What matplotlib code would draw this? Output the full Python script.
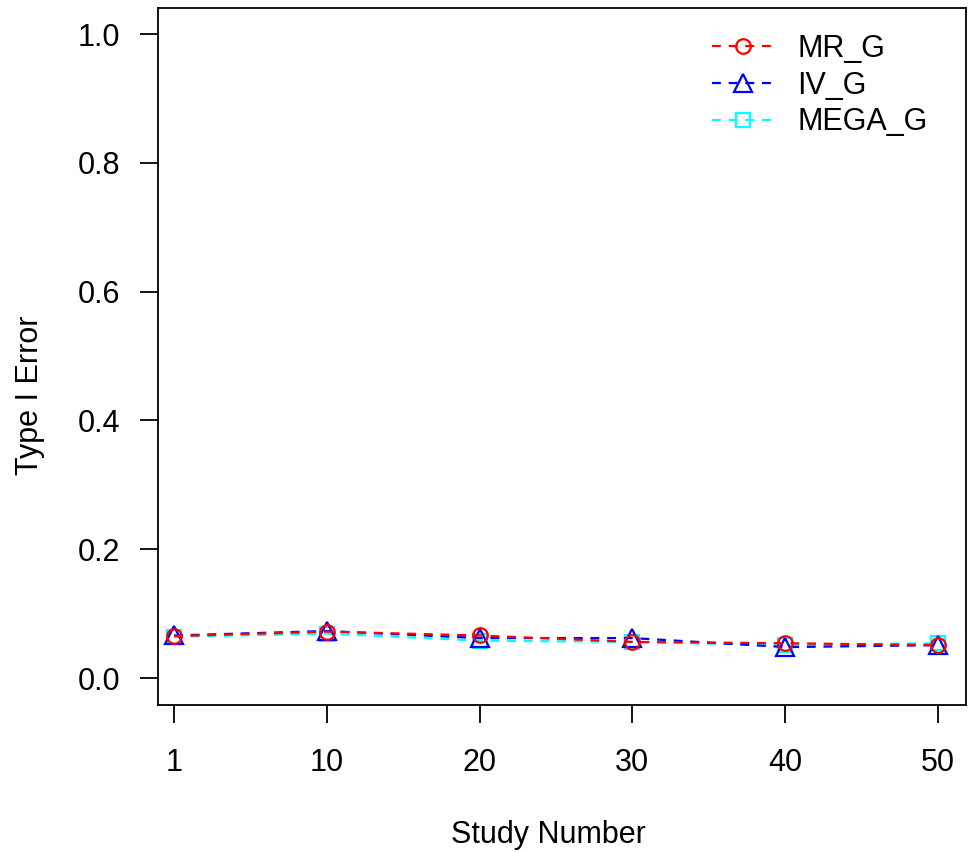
import numpy as np
import matplotlib.pyplot as plt

plt.rcParams['font.family'] = ['Liberation Sans', 'DejaVu Sans']

# --- DATA ---
study_labels = ['1', '10', '20', '30', '40', '50']
mr_g = [0.065, 0.072, 0.066, 0.056, 0.054, 0.051]
iv_g = [0.066, 0.073, 0.062, 0.062, 0.048, 0.051]
mega_g = [0.064, 0.069, 0.058, 0.056, 0.051, 0.054]

x = np.arange(1, len(study_labels) + 1)

# --- FIGURE ---
fig = plt.figure(figsize=(9.68, 8.52), dpi=100)
ax = fig.add_axes([158 / 968, 1 - 705 / 852, (966 - 158) / 968, (705 - 8) / 852])

dash = (4, 3.5)
ax.plot(x, mega_g, color='cyan', linestyle='--', dashes=dash, linewidth=1.6,
        marker='s', markersize=10, markerfacecolor='none', markeredgewidth=1.6,
        label='MEGA_G', zorder=2)
ax.plot(x, iv_g, color='blue', linestyle='--', dashes=dash, linewidth=1.6,
        marker='^', markersize=13, markerfacecolor='none', markeredgewidth=1.6,
        label='IV_G', zorder=3)
ax.plot(x, mr_g, color='red', linestyle='--', dashes=dash, linewidth=1.6,
        marker='o', markersize=10.5, markerfacecolor='none', markeredgewidth=1.6,
        label='MR_G', zorder=4)

ax.set_xlim(1 - 16 / 152.8, 6 + 28 / 152.8)
ax.set_ylim(-27 / 644, 1 + 26 / 644)

ax.set_xticks(x)
ax.set_xticklabels(study_labels)
ax.set_yticks([0.0, 0.2, 0.4, 0.6, 0.8, 1.0])
ax.set_yticklabels(['0.0', '0.2', '0.4', '0.6', '0.8', '1.0'])

for s in ax.spines.values():
    s.set_linewidth(1.3)
ax.tick_params(axis='both', labelsize=22, length=13, width=1.3, direction='out')
ax.tick_params(axis='x', pad=18)
ax.tick_params(axis='y', pad=14)

fig.text(30 / 968, 1 - 395 / 852, 'Type I Error', rotation=90, fontsize=22,
         ha='center', va='center')
fig.text(548 / 968, 1 - 835 / 852, 'Study Number', fontsize=22,
         ha='center', va='center')

# legend in R order
h, l = ax.get_legend_handles_labels()
order = [2, 1, 0]
ax.legend([h[i] for i in order], [l[i] for i in order],
          loc='upper left', bbox_to_anchor=(712 / 968, 1 - 34 / 852),
          bbox_transform=fig.transFigure, frameon=False, fontsize=22,
          handlelength=2.0, handletextpad=0.8, labelspacing=0.22,
          borderpad=0, borderaxespad=0, numpoints=1)

fig.savefig('out.png', dpi=100)
